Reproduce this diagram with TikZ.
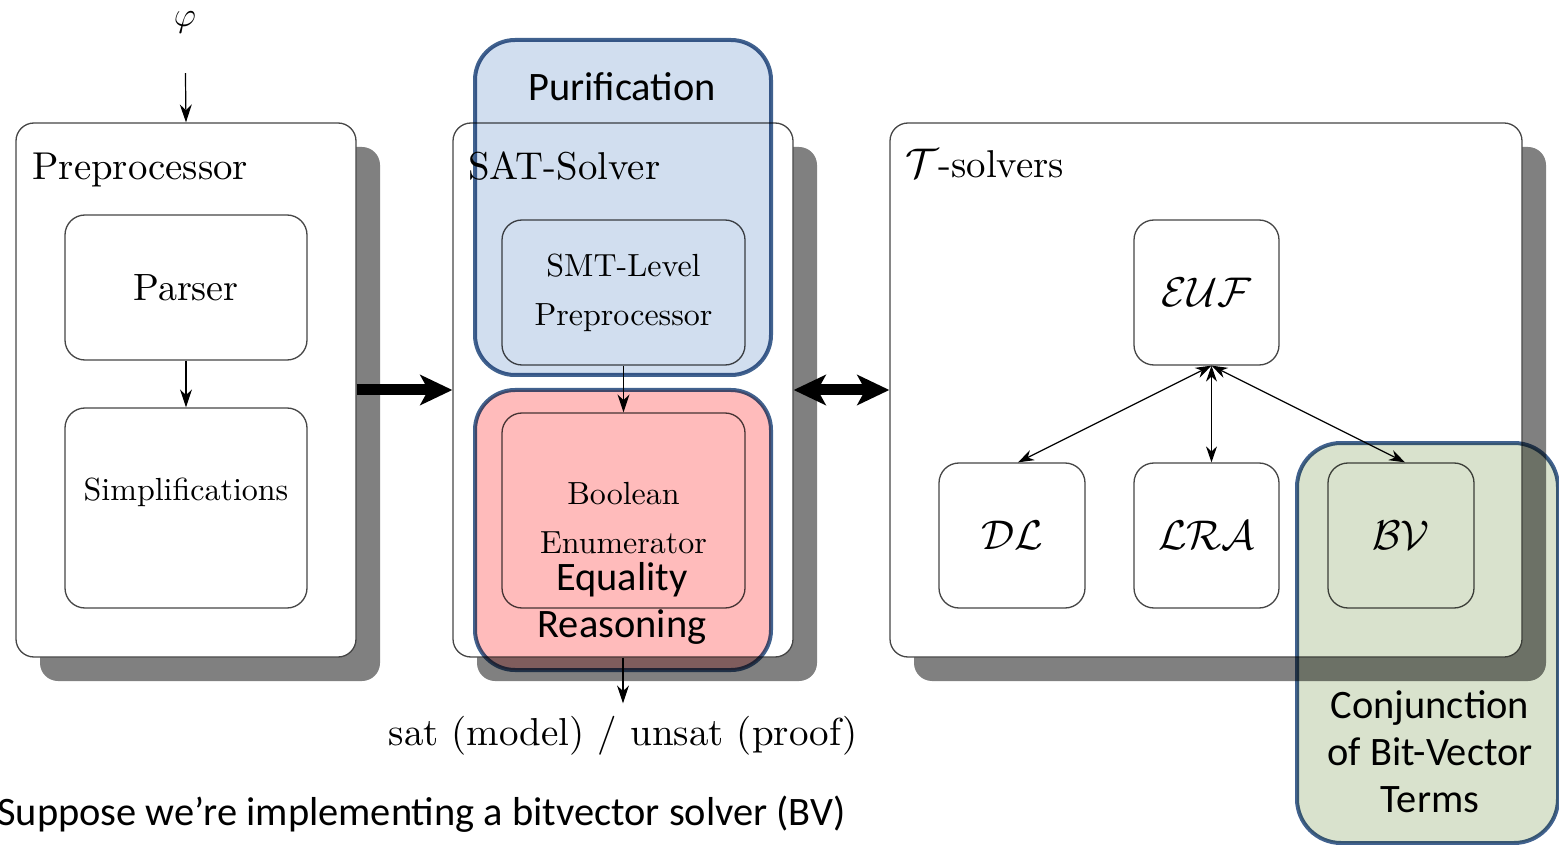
\documentclass[tikz,border=0pt]{standalone}
\usepackage{fontspec}
\setmainfont{lmroman10-regular.otf}
\newfontfamily\calibri{Carlito}
\usetikzlibrary{arrows.meta,shadows}
\definecolor{boxgray}{RGB}{70,70,70}
\definecolor{shadowgray}{RGB}{128,128,128}
\definecolor{ovborder}{RGB}{65,98,143}
\definecolor{ovblue}{RGB}{209,222,239}
\definecolor{ovred}{RGB}{255,187,187}
\definecolor{ovgreen}{RGB}{217,226,205}
\tikzset{
  outer/.style={draw=boxgray, line width=0.65pt, rounded corners=9pt, fill=white, inner sep=0pt,
    minimum height=267pt,
    drop shadow={shadow xshift=12pt, shadow yshift=-12pt, opacity=1, fill=shadowgray}},
  inbox/.style={draw=boxgray, line width=0.65pt, rounded corners=10pt, fill=white, inner sep=0pt},
  title/.style={inner sep=0pt, font=\fontsize{19.4}{23}\selectfont},
  mid/.style={inner sep=0pt, align=center, font=\fontsize{16}{24.5}\selectfont},
  calfont/.style={font=\fontsize{20}{24}\selectfont},
  arr/.style={-{Stealth[length=9pt,width=6pt]}, line width=0.6pt},
  darr/.style={{Stealth[length=8pt,width=5.5pt]}-{Stealth[length=8pt,width=5.5pt]}, line width=0.6pt},
  bigarr/.style={-{Stealth[length=16pt,width=15pt,inset=4pt]}, line width=5.5pt},
  bigdarr/.style={{Stealth[length=16pt,width=15pt,inset=4pt]}-{Stealth[length=16pt,width=15pt,inset=4pt]}, line width=5.5pt},
  ov/.style={draw=ovborder, line width=2pt, rounded corners=20pt, inner sep=0pt},
  ovtext/.style={inner sep=0pt, align=center, font=\calibri\fontsize{20.2}{23.5}\selectfont},
}
\begin{document}
\begin{tikzpicture}[x=0.5pt,y=-0.5pt]
\useasboundingbox (0,0) rectangle (1559,845);

% outer containers
\node[outer, minimum width=170pt] (pre) at (186,390) {};
\node[outer, minimum width=170pt] (sat) at (623,390) {};
\node[outer, minimum width=316pt] (tsol) at (1206,390) {};

\node[title, anchor=base west] (preT) at (32,180) {Preprocessor};
\node[title, anchor=base west] (satT) at (468,180) {SAT-Solver};
\node[title, anchor=base west] (tsT) at (905,178) {$\mathcal{T}$-solvers};

% input
\node[inner sep=0pt, font=\fontsize{19}{23}\selectfont] (phi) at (185,22) {$\varphi$};
\draw[arr, shorten <=20pt] (phi.south) -- (pre.north);

% preprocessor internals
\node[inbox, minimum width=121pt, minimum height=72.5pt, font=\fontsize{19}{23}\selectfont] (parser) at (186,287.5) {Parser};
\node[inbox, minimum width=121pt, minimum height=100pt] (simp) at (186,508) {};
\node[mid, anchor=base] (simpT) at (186,500) {Simplifications};
\draw[arr] (parser.south) -- (simp.north);

% SAT internals
\node[inbox, minimum width=121.5pt, minimum height=72.5pt, mid] (smt) at (623.5,292.5) {SMT-Level\\Preprocessor};
\node[inbox, minimum width=121.5pt, minimum height=97.5pt] (bool) at (623.5,510.5) {};
\node[mid] (boolT) at (623.5,518.5) {Boolean\\Enumerator};
\draw[arr] (smt.south) -- (bool.north);

% output
\node[inner sep=6pt, anchor=base, font=\fontsize{19.5}{23}\selectfont] (out) at (623,745) {sat (model) / unsat (proof)};
\draw[arr] (sat.south) -- (out.north);

% T-solvers internals
\node[inbox, minimum width=72.5pt, minimum height=72.5pt, calfont] (euf) at (1206.5,292.5) {$\mathcal{EUF}$};
\node[inbox, minimum width=73pt, minimum height=72.5pt, calfont] (dl) at (1012,535.5) {$\mathcal{DL}$};
\node[inbox, minimum width=72.5pt, minimum height=72.5pt, calfont] (lra) at (1206.5,535.5) {$\mathcal{LRA}$};
\node[inbox, minimum width=73pt, minimum height=72.5pt, calfont] (bv) at (1401,535.5) {$\mathcal{BV}$};
\draw[darr] ([xshift=2.5pt]euf.south) -- ([xshift=3pt]dl.north);
\draw[darr] ([xshift=2.5pt]euf.south) -- ([xshift=2.5pt]lra.north);
\draw[darr] ([xshift=2.5pt]euf.south) -- ([xshift=2pt]bv.north);

% thick connectors
\draw[bigarr] (pre.east) -- (sat.west);
\draw[bigdarr] (sat.east) -- (tsol.west);

% overlays
\begin{scope}[blend mode=multiply]
\node[ov, fill=ovblue, minimum width=148pt, minimum height=167.5pt] (pur) at (623,207.5) {};
\node[ov, fill=ovred, minimum width=148pt, minimum height=140pt] (eqr) at (623,530) {};
\node[ov, fill=ovgreen, rounded corners=22pt, minimum width=130.5pt, minimum height=200pt] (bvov) at (1427.5,643) {};
\end{scope}
\node[ovtext] (purT) at (622,87) {Purification};
\node[ovtext, anchor=base] (eqrT) at (622,637) {Equality\\Reasoning};
\node[ovtext, anchor=base] (bvT) at (1430,812) {Conjunction\\of Bit-Vector\\Terms};

% caption
\node[ovtext, anchor=base west] (caption) at (-3,825) {Suppose we’re implementing a bitvector solver (BV)};
\end{tikzpicture}
\end{document}
